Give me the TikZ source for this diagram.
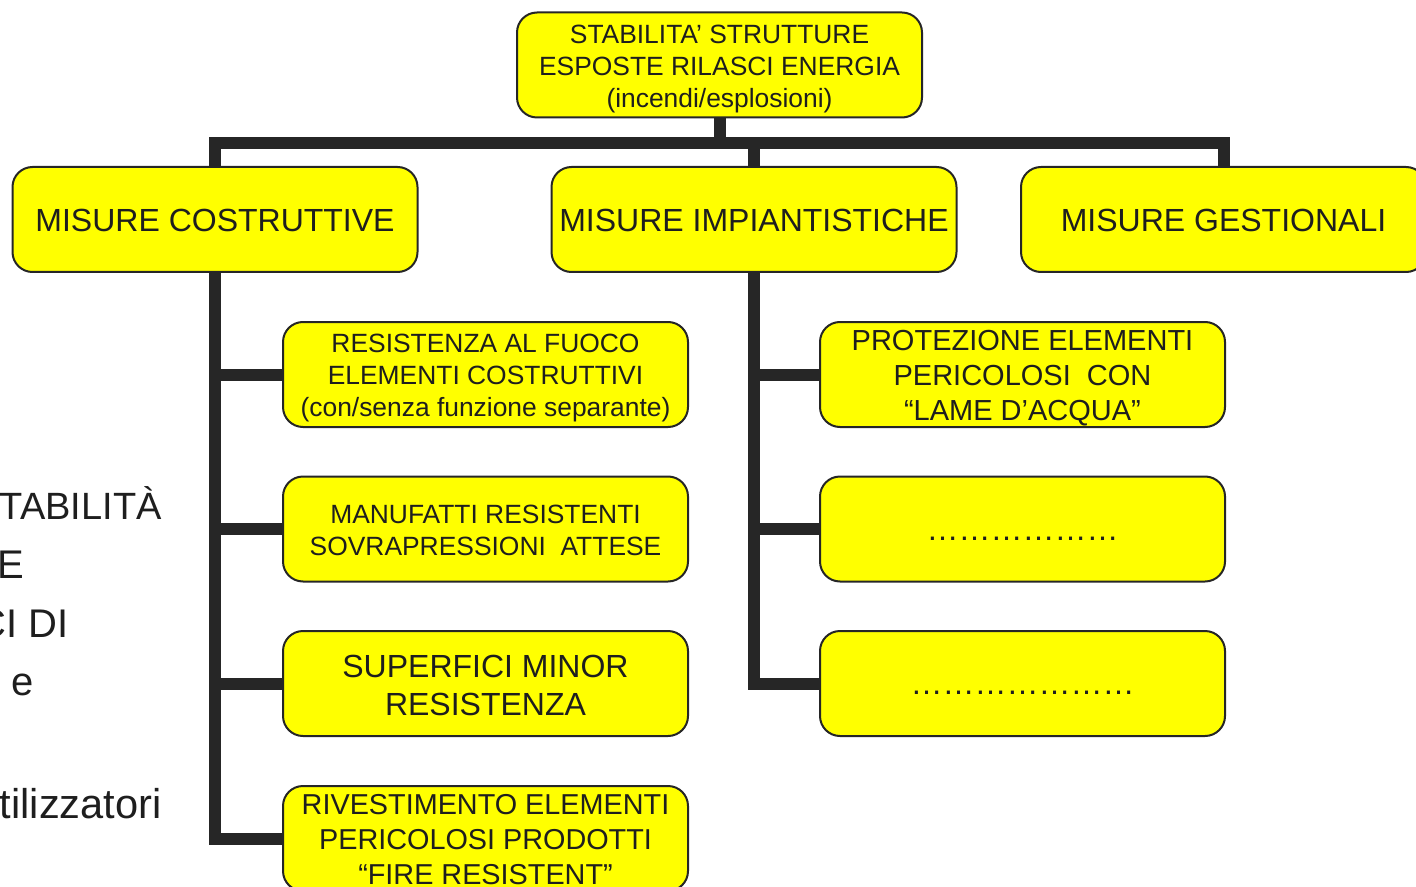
\documentclass[tikz,border=0pt]{standalone}
\usepackage{fontspec}
\setmainfont{Liberation Sans}
\usetikzlibrary{positioning}
\definecolor{boxyellow}{HTML}{FFFF00}
\definecolor{linegray}{HTML}{262626}
\definecolor{textgray}{HTML}{1E1E1E}
% extra room above the first line, so that the text sits a little lower
\newcommand\dropby[1]{\rule{0pt}{\dimexpr\fontcharht\font`\A+#1\relax}}
\tikzset{
  box/.style={draw=linegray, line width=1pt, fill=boxyellow, rounded corners=10pt,
    minimum width=202.5pt, minimum height=52.5pt, inner sep=0pt, align=center,
    text=textgray},
  conn/.style={draw=linegray, line width=6pt},
  fragment/.style={inner sep=0pt, text=textgray, font=\fontsize{20}{24}\selectfont}
}
\begin{document}
\begin{tikzpicture}[x=0.5pt, y=-0.5pt]
  \useasboundingbox (0,0) rectangle (1416,887);
  \clip (0,0) rectangle (1416,887);

  % text partly hidden at the left
  \node [fragment, anchor=base east, font=\fontsize{19}{24}\selectfont] (f1) at (162,519) {TABILITÀ};
  \node [fragment, anchor=base west] (f2) at (-3,578) {E};
  \node [fragment, anchor=base east] (f3) at (69,637) {CI DI};
  \node [fragment, anchor=base west] (f4) at (11,695) {e};
  \node [fragment, anchor=base east, font=\fontsize{20.8}{24}\selectfont] (f5) at (162,818) {tilizzatori};

  % boxes
  \node [box, font=\fontsize{13.2}{16}\selectfont] (top) at (719.5,65)
    {\dropby{4pt}STABILITA’ STRUTTURE\\ESPOSTE RILASCI ENERGIA\\(incendi/esplosioni)};
  \node [box, font=\fontsize{16}{19}\selectfont] (cost) at (215,219.5) {\dropby{1pt}MISURE COSTRUTTIVE};
  \node [box, font=\fontsize{16}{19}\selectfont] (impi) at (754,219.5) {\dropby{1pt}MISURE IMPIANTISTICHE};
  \node [box, font=\fontsize{16}{19}\selectfont] (gest) at (1223.5,219.5) {\dropby{1pt}MISURE GESTIONALI};

  \node [box, font=\fontsize{13.2}{16}\selectfont] (c1) at (485.5,374.5)
    {\dropby{4pt}RESISTENZA AL FUOCO\\ELEMENTI COSTRUTTIVI\\(con/senza funzione separante)};
  \node [box, font=\fontsize{13.2}{16}\selectfont] (c2) at (485.5,529)
    {\dropby{2pt}MANUFATTI RESISTENTI\\SOVRAPRESSIONI\ \ ATTESE};
  \node [box, font=\fontsize{16}{19}\selectfont] (c3) at (485.5,683.5)
    {\dropby{2pt}SUPERFICI MINOR\\RESISTENZA};
  \node [box, font=\fontsize{14.4}{17.5}\selectfont] (c4) at (485.5,838.5)
    {\dropby{1.5pt}RIVESTIMENTO ELEMENTI\\PERICOLOSI PRODOTTI\\“FIRE RESISTENT”};

  \node [box, font=\fontsize{14.5}{17.5}\selectfont] (i1) at (1022.5,374.5)
    {\dropby{4pt}PROTEZIONE ELEMENTI\\PERICOLOSI\ \ CON\\“LAME D’ACQUA”};
  \node [box, font=\fontsize{16}{19}\selectfont] (i2) at (1022.5,529) {\rule{0pt}{11pt}………………};
  \node [box, font=\fontsize{16}{19}\selectfont] (i3) at (1022.5,683.5) {\rule{0pt}{10.5pt}…………………};

  % connectors
  \coordinate (hub) at (top.south |- 0,143);
  \draw [conn] (top.south) -- ([yshift=-3pt]hub);
  \draw [conn] (cost.north) |- (hub) -| (gest.north);
  \draw [conn] (impi.north) -- (impi.north |- hub);

  \draw [conn] (cost.south) |- (c4.west);
  \draw [conn] (cost.south |- c1.west) -- (c1.west);
  \draw [conn] (cost.south |- c2.west) -- (c2.west);
  \draw [conn] (cost.south |- c3.west) -- (c3.west);

  \draw [conn] (impi.south) |- (i3.west);
  \draw [conn] (impi.south |- i1.west) -- (i1.west);
  \draw [conn] (impi.south |- i2.west) -- (i2.west);
\end{tikzpicture}
\end{document}
